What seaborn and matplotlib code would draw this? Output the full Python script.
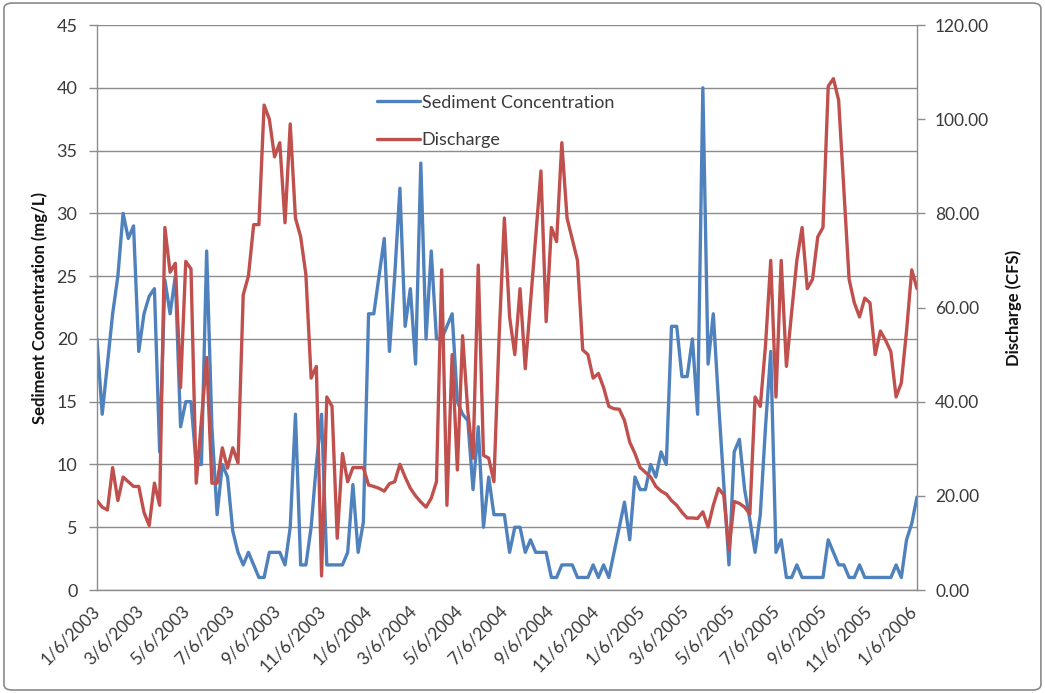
import pandas as pd
import matplotlib
matplotlib.use("Agg")
import matplotlib.pyplot as plt
import seaborn as sns
from matplotlib.patches import FancyBboxPatch

# Weekly samples starting 1/6/2003
start_date = "2003-01-06"

sediment = [
    20, 14, 18, 22, 25, 30, 28, 29, 19, 22,
    23.4, 24, 11, 24.7, 22, 25, 13, 15, 15, 10,
    10, 27, 13, 6, 10, 9, 4.7, 3, 2, 3,
    2, 1, 1, 3, 3, 3, 2, 5, 14, 2,
    2, 5, 10, 14, 2, 2, 2, 2, 3, 8.4,
    3, 5.4, 22, 22, 25, 28, 19, 25, 32, 21,
    24, 18, 34, 20, 27, 20, 20, 21, 22, 15,
    14, 13.5, 8, 13, 5, 9, 6, 6, 6, 3,
    5, 5, 3, 4, 3, 3, 3, 1, 1, 2,
    2, 2, 1, 1, 1, 2, 1, 2, 1, 3,
    5, 7, 4, 9, 8, 8, 10, 9, 11, 10,
    21, 21, 17, 17, 20, 14, 40, 18, 22, 15,
    8.5, 2, 11, 12, 8, 5.6, 3, 6, 13, 19,
    3, 4, 1, 1, 2, 1, 1, 1, 1, 1,
    4, 3, 2, 2, 1, 1, 2, 1, 1, 1,
    1, 1, 1, 2, 1, 4, 5.3, 7.4,
]

discharge = [
    19, 17.6, 17, 26, 19, 24, 23, 22, 22, 16.5,
    13.7, 22.7, 18, 77, 67.5, 69.4, 43, 69.8, 68.2, 22.7,
    36, 49.4, 22.7, 22.7, 30.2, 25.9, 30.2, 27, 62.7, 66.7,
    77.6, 77.6, 103, 100, 92, 95, 78, 99, 79, 75,
    67, 45, 47.5, 3, 41, 39, 11, 29, 23, 26,
    26, 26, 22.3, 22, 21.6, 21, 22.6, 23, 26.7, 24,
    21.6, 20, 18.7, 17.6, 19.5, 23, 68, 18, 50, 25.5,
    54, 38, 28, 69, 28.6, 28, 23, 54, 79, 58,
    50, 64, 47, 61, 75, 89, 57, 77, 74, 95,
    79, 74.5, 70, 51, 50, 45, 46, 43, 39, 38.5,
    38.4, 36, 31.4, 29, 26, 25, 24, 22, 21, 20.4,
    19, 18, 16.5, 15.3, 15.3, 15.2, 16.6, 13.4, 18, 21.6,
    20.2, 8.5, 18.8, 18.4, 17.6, 16.1, 41, 39, 52, 70,
    41, 70, 47.5, 59, 70, 77, 64, 66, 75, 77,
    107, 108.6, 104, 85, 66, 61, 58, 62, 61, 50,
    55, 53, 50.6, 41, 44, 55, 68, 64,
]

tick_labels = [
    "1/6/2003", "3/6/2003", "5/6/2003", "7/6/2003", "9/6/2003", "11/6/2003",
    "1/6/2004", "3/6/2004", "5/6/2004", "7/6/2004", "9/6/2004", "11/6/2004",
    "1/6/2005", "3/6/2005", "5/6/2005", "7/6/2005", "9/6/2005", "11/6/2005",
    "1/6/2006",
]
left_ticks = [0, 5, 10, 15, 20, 25, 30, 35, 40, 45]
right_ticks = [0, 20, 40, 60, 80, 100, 120]

BLUE = "#4F81BD"
RED = "#C0504D"
GRID = "#8c8c8c"
TEXT = "#3a3a3a"

dates = pd.date_range(start_date, periods=len(sediment), freq="7D")
df = pd.DataFrame({
    "Date": dates,
    "Sediment Concentration": sediment,
    "Discharge": discharge,
})

sns.set_style("white")
plt.rcParams["font.family"] = ["Lato", "DejaVu Sans"]

fig = plt.figure(figsize=(10.45, 6.93), dpi=100)
ax = fig.add_axes([0.0928, 0.1486, 0.7847, 0.8153])
ax2 = ax.twinx()

sns.lineplot(data=df, x="Date", y="Sediment Concentration", ax=ax,
             color=BLUE, linewidth=2.4, legend=False)
sns.lineplot(data=df, x="Date", y="Discharge", ax=ax2,
             color=RED, linewidth=2.4, legend=False)

# axes ranges
ax.set_xlim(dates[0], dates[-1])
ax.set_ylim(0, 45)
ax2.set_ylim(0, 120)

# x ticks: every two months, rotated
tick_dates = pd.to_datetime(tick_labels, format="%m/%d/%Y")
ax.set_xticks(tick_dates)
ax.set_xticklabels(tick_labels, rotation=45, ha="right", va="center",
                   rotation_mode="anchor", fontsize=12.5, color=TEXT)
ax.tick_params(axis="x", direction="out", length=5, width=1, color=GRID, pad=8)

ax.set_yticks(left_ticks)
ax.set_yticklabels([str(v) for v in left_ticks], fontsize=13, color=TEXT)
ax.tick_params(axis="y", direction="out", length=6, width=1, color=GRID, pad=8)

ax2.set_yticks(right_ticks)
ax2.set_yticklabels([f"{v:.2f}" for v in right_ticks], fontsize=12.5, color=TEXT)
ax2.tick_params(axis="y", direction="out", length=6, width=1, color=GRID, pad=7)

ax.yaxis.grid(True, color=GRID, linewidth=1)
ax.xaxis.grid(False)
ax.set_axisbelow(True)

for side in ["top", "right"]:
    ax.spines[side].set_visible(False)
for side in ["left", "bottom"]:
    ax.spines[side].set_color(GRID)
    ax.spines[side].set_linewidth(1)
for side in ["top", "left", "bottom"]:
    ax2.spines[side].set_visible(False)
ax2.spines["right"].set_color(GRID)
ax2.spines["right"].set_linewidth(1)

ax.set_xlabel("")
ax.set_ylabel("Sediment Concentration (mg/L)", fontsize=12, fontweight="bold",
              color="#111111", labelpad=6)
ax2.set_ylabel("Discharge (CFS)", fontsize=12, fontweight="bold",
               color="#111111", labelpad=12)

handles = ax.get_lines()[:1] + ax2.get_lines()[:1]
ax2.legend(handles, ["Sediment Concentration", "Discharge"],
           loc="upper left", bbox_to_anchor=(0.33, 0.893), frameon=False,
           fontsize=13, handlelength=2.4, handletextpad=0.1,
           labelspacing=1.2, borderpad=0, labelcolor=TEXT)

# chart area border
fig.patches.append(FancyBboxPatch(
    (0.0038, 0.0043), 0.9923, 0.9913,
    boxstyle="round,pad=0,rounding_size=0.008",
    transform=fig.transFigure, facecolor="none",
    edgecolor="#8a8a8a", linewidth=1.2))

fig.savefig("out.png", dpi=100, facecolor="white")
